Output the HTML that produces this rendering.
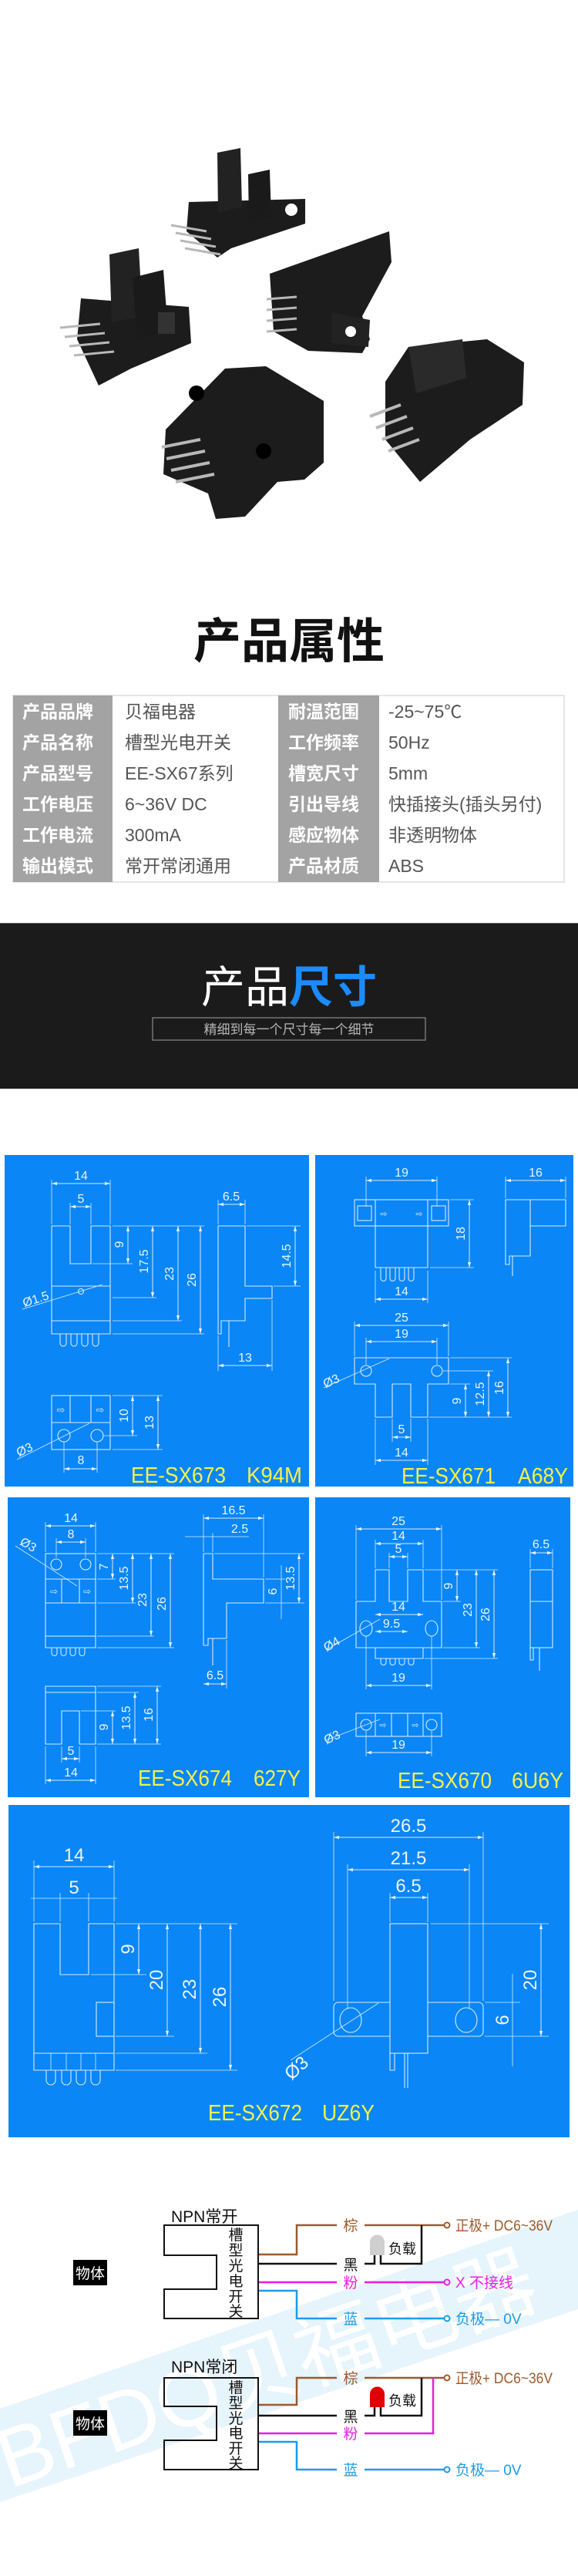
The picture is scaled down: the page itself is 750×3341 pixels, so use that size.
<!DOCTYPE html>
<html><head><meta charset="utf-8">
<style>
html,body{margin:0;padding:0;background:#fff;}
svg{display:block;}
.t{font-family:"Liberation Sans","Noto Sans CJK SC",sans-serif;}
.n{font-family:"Liberation Sans Narrow","Liberation Sans","Noto Sans CJK SC",sans-serif;}
.s{fill:none;stroke:#d6ebff;stroke-width:1.1;}
.d{fill:none;stroke:#d6ebff;stroke-width:1;marker-start:url(#ar);marker-end:url(#ar);}
.e{fill:none;stroke:#d6ebff;stroke-width:0.8;}
.dt{font-family:"Liberation Sans Narrow","Liberation Sans",sans-serif;font-size:16px;fill:#eaf5ff;text-anchor:middle;}
.dt2{font-family:"Liberation Sans Narrow","Liberation Sans",sans-serif;font-size:24px;fill:#eaf5ff;text-anchor:middle;}
.lab{font-family:"Liberation Sans Narrow","Liberation Sans",sans-serif;font-size:29px;fill:#f4f24a;}
.w{fill:none;stroke-width:2.5;}
</style></head><body>
<svg width="750" height="3341" viewBox="0 0 750 3341" xmlns="http://www.w3.org/2000/svg">
<defs>
<marker id="ar" viewBox="0 0 10 10" refX="10" refY="5" markerWidth="7" markerHeight="7" orient="auto-start-reverse" markerUnits="userSpaceOnUse"><path d="M0,2 L10,5 L0,8 Z" fill="#e6f3ff"/></marker>
</defs>

<!-- ============ PHOTO ============ -->
<g>
<polygon points="245,262 396,258 396,290 300,322 282,334 242,300" fill="#1c1c1c"/>
<polygon points="282,198 312,192 314,268 283,276" fill="#222"/>
<polygon points="322,226 350,220 352,282 323,288" fill="#1a1a1a"/>
<circle cx="378" cy="272" r="8" fill="#fff"/>
<g stroke="#b8b8b8" stroke-width="3"><line x1="222" y1="292" x2="268" y2="300"/><line x1="228" y1="302" x2="274" y2="310"/><line x1="234" y1="312" x2="280" y2="320"/><line x1="240" y1="322" x2="286" y2="330"/></g>
<polygon points="105,387 245,398 248,445 170,478 128,500 100,440" fill="#1c1c1c"/>
<polygon points="142,330 180,322 185,410 145,418" fill="#222"/>
<polygon points="172,360 212,350 218,430 178,440" fill="#1a1a1a"/>
<rect x="205" y="405" width="22" height="28" fill="#333"/>
<g stroke="#b8b8b8" stroke-width="3"><line x1="78" y1="425" x2="130" y2="420"/><line x1="84" y1="437" x2="136" y2="432"/><line x1="90" y1="449" x2="142" y2="444"/><line x1="96" y1="461" x2="148" y2="456"/></g>
<polygon points="350,355 505,300 508,340 470,410 480,440 470,458 400,455 355,430" fill="#1c1c1c"/>
<polygon points="430,405 480,415 478,450 430,445" fill="#222"/>
<circle cx="455" cy="430" r="7" fill="#fff"/>
<g stroke="#b8b8b8" stroke-width="3"><line x1="346" y1="388" x2="385" y2="385"/><line x1="346" y1="402" x2="385" y2="399"/><line x1="346" y1="416" x2="385" y2="413"/><line x1="346" y1="430" x2="385" y2="427"/></g>
<polygon points="215,557 292,478 345,475 420,520 420,600 395,622 360,625 318,670 280,673 270,640 212,615" fill="#1c1c1c"/>
<circle cx="255" cy="510" r="10" fill="#000"/>
<circle cx="342" cy="585" r="10" fill="#000"/>
<g stroke="#b8b8b8" stroke-width="4"><line x1="210" y1="580" x2="260" y2="570"/><line x1="216" y1="595" x2="266" y2="585"/><line x1="222" y1="610" x2="272" y2="600"/><line x1="228" y1="625" x2="278" y2="615"/></g>
<polygon points="500,495 530,450 632,440 680,470 678,525 610,570 545,625 500,570" fill="#1c1c1c"/>
<polygon points="530,450 600,440 605,490 540,510" fill="#2a2a2a"/>
<g stroke="#b8b8b8" stroke-width="4"><line x1="480" y1="540" x2="520" y2="525"/><line x1="488" y1="555" x2="528" y2="540"/><line x1="496" y1="570" x2="536" y2="555"/><line x1="504" y1="585" x2="544" y2="570"/></g>
</g>

<!-- ============ 产品属性 ============ -->
<text x="375" y="853" class="t" font-size="62" font-weight="bold" fill="#111" text-anchor="middle">产品属性</text>
<rect x="17" y="902" width="715" height="242" fill="#fff" stroke="#ddd" stroke-width="1.5"/>
<rect x="17" y="902" width="129" height="242" fill="#a3a3a3"/>
<rect x="361" y="902" width="131" height="242" fill="#a3a3a3"/>
<g class="t" font-size="23">
<g fill="#fff" font-weight="bold">
<text x="29" y="931">产品品牌</text><text x="29" y="971">产品名称</text><text x="29" y="1011">产品型号</text><text x="29" y="1051">工作电压</text><text x="29" y="1091">工作电流</text><text x="29" y="1131">输出模式</text>
<text x="374" y="931">耐温范围</text><text x="374" y="971">工作频率</text><text x="374" y="1011">槽宽尺寸</text><text x="374" y="1051">引出导线</text><text x="374" y="1091">感应物体</text><text x="374" y="1131">产品材质</text>
</g>
<g fill="#555">
<text x="162" y="931">贝福电器</text><text x="162" y="971">槽型光电开关</text><text x="162" y="1011">EE-SX67系列</text><text x="162" y="1051">6~36V DC</text><text x="162" y="1091">300mA</text><text x="162" y="1131">常开常闭通用</text>
<text x="504" y="931">-25~75℃</text><text x="504" y="971">50Hz</text><text x="504" y="1011">5mm</text><text x="504" y="1051">快插接头(插头另付)</text><text x="504" y="1091">非透明物体</text><text x="504" y="1131">ABS</text>
</g></g>

<!-- ============ banner ============ -->
<rect x="0" y="1197" width="750" height="215" fill="#1b1b1b"/>
<line x1="0" y1="1197.5" x2="750" y2="1197.5" stroke="#555"/>
<text x="375" y="1300" class="t" font-size="57" text-anchor="middle"><tspan fill="#fff">产品</tspan><tspan fill="#1a8cff" font-weight="bold">尺寸</tspan></text>
<rect x="198" y="1320" width="354" height="29" fill="none" stroke="#8a8a8a" stroke-width="1.2"/>
<text x="375" y="1341" class="t" font-size="17" fill="#b5b5b5" text-anchor="middle">精细到每一个尺寸每一个细节</text>

<!-- ============ panels ============ -->
<rect x="6" y="1498" width="395" height="430" fill="#0a86f6"/>
<rect x="409" y="1498" width="335" height="430" fill="#0a86f6"/>
<rect x="10" y="1942" width="391" height="389" fill="#0a86f6"/>
<rect x="409" y="1942" width="331" height="389" fill="#0a86f6"/>
<rect x="11" y="2341" width="728" height="431" fill="#0a86f6"/>

<!-- panel1 -->
<g>
<path class="s" d="M67,1590 H91 V1639 H118 V1590 H143 V1713 H67 Z"/>
<line class="s" x1="67" y1="1668" x2="143" y2="1668"/>
<path class="s" d="M67,1713 V1730 H143 V1713"/>
<g class="s"><path d="M78,1730 V1742 a4,4 0 0 0 8,0 V1730"/><path d="M92,1730 V1742 a4,4 0 0 0 8,0 V1730"/><path d="M106,1730 V1742 a4,4 0 0 0 8,0 V1730"/><path d="M120,1730 V1742 a4,4 0 0 0 8,0 V1730"/></g>
<circle class="s" cx="105" cy="1675" r="3.5"/>
<line class="e" x1="29" y1="1698" x2="133" y2="1666"/>
<text class="dt" transform="translate(48,1690) rotate(-18)">Ø1.5</text>
<g class="e"><line x1="67" y1="1530" x2="67" y2="1588"/><line x1="143" y1="1530" x2="143" y2="1588"/><line x1="91" y1="1560" x2="91" y2="1588"/><line x1="118" y1="1560" x2="118" y2="1588"/>
<line x1="146" y1="1590" x2="265" y2="1590"/><line x1="120" y1="1639" x2="172" y2="1639"/><line x1="146" y1="1683" x2="203" y2="1683"/><line x1="146" y1="1713" x2="236" y2="1713"/><line x1="146" y1="1730" x2="265" y2="1730"/></g>
<line class="d" x1="67" y1="1535" x2="143" y2="1535"/><text class="dt" x="105" y="1530">14</text>
<line class="d" x1="91" y1="1565" x2="118" y2="1565"/><text class="dt" x="105" y="1560">5</text>
<line class="d" x1="166" y1="1590" x2="166" y2="1639"/><text class="dt" transform="translate(160,1614) rotate(-90)">9</text>
<line class="d" x1="198" y1="1590" x2="198" y2="1683"/><text class="dt" transform="translate(192,1636) rotate(-90)">17.5</text>
<line class="d" x1="231" y1="1590" x2="231" y2="1713"/><text class="dt" transform="translate(225,1652) rotate(-90)">23</text>
<line class="d" x1="260" y1="1590" x2="260" y2="1730"/><text class="dt" transform="translate(254,1660) rotate(-90)">26</text>
<path class="s" d="M283,1590 H318 V1668 H353 V1684 H318 V1713 H287 V1730 H283 Z"/>
<line class="s" x1="297" y1="1713" x2="297" y2="1747"/>
<g class="e"><line x1="283" y1="1556" x2="283" y2="1588"/><line x1="318" y1="1556" x2="318" y2="1588"/><line x1="320" y1="1590" x2="390" y2="1590"/><line x1="355" y1="1668" x2="390" y2="1668"/><line x1="283" y1="1732" x2="283" y2="1778"/><line x1="353" y1="1686" x2="353" y2="1778"/></g>
<line class="d" x1="283" y1="1562" x2="318" y2="1562"/><text class="dt" x="300" y="1557">6.5</text>
<line class="d" x1="383" y1="1590" x2="383" y2="1668"/><text class="dt" transform="translate(377,1629) rotate(-90)">14.5</text>
<line class="d" x1="283" y1="1771" x2="353" y2="1771"/><text class="dt" x="318" y="1766">13</text>
<rect class="s" x="67" y="1810" width="76" height="70"/>
<line class="s" x1="67" y1="1845" x2="143" y2="1845"/>
<line class="s" x1="91" y1="1810" x2="91" y2="1845"/><line class="s" x1="118" y1="1810" x2="118" y2="1845"/>
<text x="79" y="1833" font-size="13" fill="#d6ebff" text-anchor="middle">⇨</text><text x="130" y="1833" font-size="13" fill="#d6ebff" text-anchor="middle">⇨</text>
<circle class="s" cx="83" cy="1862" r="8"/><circle class="s" cx="126" cy="1862" r="8"/>
<g class="e"><line x1="146" y1="1810" x2="211" y2="1810"/><line x1="134" y1="1862" x2="178" y2="1862"/><line x1="146" y1="1880" x2="211" y2="1880"/><line x1="83" y1="1870" x2="83" y2="1910"/><line x1="126" y1="1870" x2="126" y2="1910"/></g>
<line class="d" x1="172" y1="1810" x2="172" y2="1862"/><text class="dt" transform="translate(166,1836) rotate(-90)">10</text>
<line class="d" x1="205" y1="1810" x2="205" y2="1880"/><text class="dt" transform="translate(199,1845) rotate(-90)">13</text>
<line class="d" x1="83" y1="1905" x2="126" y2="1905"/><text class="dt" x="105" y="1899">8</text>
<line class="e" x1="22" y1="1893" x2="116" y2="1846"/>
<text class="dt" transform="translate(34,1885) rotate(-25)">Ø3</text>
<text class="lab" x="170" y="1923" textLength="123" lengthAdjust="spacingAndGlyphs">EE-SX673</text><text class="lab" x="320" y="1923" textLength="72" lengthAdjust="spacingAndGlyphs">K94M</text>
</g>

<!-- panel2 -->
<g>
<rect class="s" x="460" y="1556" width="122" height="34"/>
<line class="s" x1="487" y1="1556" x2="487" y2="1590"/><line class="s" x1="555" y1="1556" x2="555" y2="1590"/>
<path class="s" d="M487,1590 V1644 H555 V1590"/>
<rect class="s" x="464" y="1564" width="18" height="19"/><rect class="s" x="560" y="1564" width="18" height="19"/>
<text x="498" y="1578" font-size="11" fill="#d6ebff" text-anchor="middle">⇨</text><text x="544" y="1578" font-size="11" fill="#d6ebff" text-anchor="middle">⇨</text>
<g class="s"><path d="M494,1644 V1658 a3.5,3.5 0 0 0 7,0 V1644"/><path d="M506,1644 V1658 a3.5,3.5 0 0 0 7,0 V1644"/><path d="M518,1644 V1658 a3.5,3.5 0 0 0 7,0 V1644"/><path d="M530,1644 V1658 a3.5,3.5 0 0 0 7,0 V1644"/></g>
<g class="e"><line x1="475" y1="1526" x2="475" y2="1565"/><line x1="567" y1="1526" x2="567" y2="1565"/><line x1="584" y1="1556" x2="615" y2="1556"/><line x1="558" y1="1644" x2="615" y2="1644"/><line x1="487" y1="1648" x2="487" y2="1690"/><line x1="555" y1="1648" x2="555" y2="1690"/><line x1="656" y1="1526" x2="656" y2="1554"/><line x1="734" y1="1526" x2="734" y2="1554"/></g>
<line class="d" x1="475" y1="1531" x2="567" y2="1531"/><text class="dt" x="521" y="1526">19</text>
<line class="d" x1="609" y1="1556" x2="609" y2="1644"/><text class="dt" transform="translate(603,1600) rotate(-90)">18</text>
<line class="d" x1="487" y1="1685" x2="555" y2="1685"/><text class="dt" x="521" y="1680">14</text>
<path class="s" d="M656,1556 H734 V1590 H688 V1629 H661 V1640 H656 Z"/><line class="s" x1="688" y1="1556" x2="688" y2="1590"/>
<line class="s" x1="665" y1="1629" x2="665" y2="1655"/>
<line class="d" x1="656" y1="1531" x2="734" y2="1531"/><text class="dt" x="695" y="1526">16</text>
<path class="s" d="M460,1761 H582 V1795 H555 V1838 H533 V1795 H509 V1838 H487 V1795 H460 Z"/>
<circle class="s" cx="475" cy="1778" r="7"/><circle class="s" cx="567" cy="1778" r="7"/>
<g class="e"><line x1="460" y1="1714" x2="460" y2="1759"/><line x1="582" y1="1714" x2="582" y2="1759"/><line x1="475" y1="1735" x2="475" y2="1770"/><line x1="567" y1="1735" x2="567" y2="1770"/><line x1="584" y1="1761" x2="664" y2="1761"/><line x1="575" y1="1778" x2="640" y2="1778"/><line x1="584" y1="1795" x2="610" y2="1795"/><line x1="557" y1="1838" x2="664" y2="1838"/><line x1="509" y1="1840" x2="509" y2="1870"/><line x1="533" y1="1840" x2="533" y2="1870"/><line x1="487" y1="1840" x2="487" y2="1900"/><line x1="555" y1="1840" x2="555" y2="1900"/></g>
<line class="d" x1="460" y1="1719" x2="582" y2="1719"/><text class="dt" x="521" y="1714">25</text>
<line class="d" x1="475" y1="1740" x2="567" y2="1740"/><text class="dt" x="521" y="1735">19</text>
<line class="d" x1="604" y1="1795" x2="604" y2="1838"/><text class="dt" transform="translate(598,1817) rotate(-90)">9</text>
<line class="d" x1="634" y1="1778" x2="634" y2="1838"/><text class="dt" transform="translate(628,1808) rotate(-90)">12.5</text>
<line class="d" x1="659" y1="1761" x2="659" y2="1838"/><text class="dt" transform="translate(653,1800) rotate(-90)">16</text>
<line class="d" x1="509" y1="1864" x2="533" y2="1864"/><text class="dt" x="521" y="1859">5</text>
<line class="d" x1="487" y1="1894" x2="555" y2="1894"/><text class="dt" x="521" y="1889">14</text>
<line class="e" x1="420" y1="1800" x2="505" y2="1762"/>
<text class="dt" transform="translate(432,1796) rotate(-25)">Ø3</text>
<text class="lab" x="521" y="1924" textLength="122" lengthAdjust="spacingAndGlyphs">EE-SX671</text><text class="lab" x="672" y="1924" textLength="65" lengthAdjust="spacingAndGlyphs">A68Y</text>
</g>

<!-- panel3 -->
<g>
<rect class="s" x="59" y="2015" width="65" height="107"/>
<line class="s" x1="59" y1="2048" x2="124" y2="2048"/>
<path class="s" d="M80,2048 V2079 H103 V2048"/><line class="s" x1="59" y1="2079" x2="80" y2="2079"/><line class="s" x1="103" y1="2079" x2="124" y2="2079"/>
<circle class="s" cx="73" cy="2029" r="7"/><circle class="s" cx="111" cy="2029" r="7"/>
<text x="70" y="2068" font-size="12" fill="#d6ebff" text-anchor="middle">⇨</text><text x="113" y="2068" font-size="12" fill="#d6ebff" text-anchor="middle">⇨</text>
<path class="s" d="M59,2122 V2137 H124 V2122"/>
<g class="s"><path d="M67,2137 V2144 a3.5,3.5 0 0 0 7,0 V2137"/><path d="M79,2137 V2144 a3.5,3.5 0 0 0 7,0 V2137"/><path d="M91,2137 V2144 a3.5,3.5 0 0 0 7,0 V2137"/><path d="M103,2137 V2144 a3.5,3.5 0 0 0 7,0 V2137"/></g>
<g class="e"><line x1="59" y1="1974" x2="59" y2="2013"/><line x1="124" y1="1974" x2="124" y2="2013"/><line x1="73" y1="1995" x2="73" y2="2020"/><line x1="111" y1="1995" x2="111" y2="2020"/><line x1="126" y1="2015" x2="226" y2="2015"/><line x1="126" y1="2048" x2="150" y2="2048"/><line x1="126" y1="2079" x2="176" y2="2079"/><line x1="126" y1="2122" x2="200" y2="2122"/><line x1="126" y1="2137" x2="226" y2="2137"/></g>
<line class="d" x1="59" y1="1979" x2="124" y2="1979"/><text class="dt" x="92" y="1974">14</text>
<line class="d" x1="73" y1="2000" x2="111" y2="2000"/><text class="dt" x="92" y="1995">8</text>
<line class="d" x1="146" y1="2015" x2="146" y2="2048"/><text class="dt" transform="translate(140,2032) rotate(-90)">7</text>
<line class="d" x1="172" y1="2015" x2="172" y2="2079"/><text class="dt" transform="translate(166,2047) rotate(-90)">13.5</text>
<line class="d" x1="196" y1="2015" x2="196" y2="2122"/><text class="dt" transform="translate(190,2075) rotate(-90)">23</text>
<line class="d" x1="221" y1="2015" x2="221" y2="2137"/><text class="dt" transform="translate(215,2080) rotate(-90)">26</text>
<line class="e" x1="20" y1="2005" x2="100" y2="2057"/>
<text class="dt" transform="translate(34,2008) rotate(30)">Ø3</text>
<path class="s" d="M264,2015 H276 V2048 H342 V2079 H294 V2125 H270 V2134 H264 Z"/>
<line class="s" x1="276" y1="2125" x2="276" y2="2160"/>
<g class="e"><line x1="264" y1="1964" x2="264" y2="2013"/><line x1="342" y1="1964" x2="342" y2="2046"/><line x1="276" y1="1988" x2="276" y2="2013"/><line x1="278" y1="2015" x2="395" y2="2015"/><line x1="344" y1="2048" x2="370" y2="2048"/><line x1="344" y1="2079" x2="395" y2="2079"/><line x1="365" y1="2030" x2="365" y2="2100"/><line x1="294" y1="2127" x2="294" y2="2190"/></g>
<line class="d" x1="264" y1="1969" x2="342" y2="1969"/><text class="dt" x="303" y="1964">16.5</text>
<line class="e" x1="240" y1="1993" x2="323" y2="1993"/><text class="dt" x="311" y="1988">2.5</text>
<line class="d" x1="388" y1="2015" x2="388" y2="2079"/><text class="dt" transform="translate(382,2047) rotate(-90)">13.5</text>
<text class="dt" transform="translate(359,2064) rotate(-90)">6</text>
<line class="d" x1="264" y1="2184" x2="294" y2="2184"/><text class="dt" x="279" y="2178">6.5</text>
<path class="s" d="M59,2187 H124 V2262 H103 V2219 H80 V2262 H59 Z"/>
<line class="s" x1="59" y1="2195" x2="124" y2="2195"/>
<g class="e"><line x1="105" y1="2219" x2="150" y2="2219"/><line x1="126" y1="2195" x2="180" y2="2195"/><line x1="126" y1="2187" x2="209" y2="2187"/><line x1="126" y1="2262" x2="209" y2="2262"/><line x1="80" y1="2265" x2="80" y2="2286"/><line x1="103" y1="2265" x2="103" y2="2286"/><line x1="59" y1="2265" x2="59" y2="2314"/><line x1="124" y1="2265" x2="124" y2="2314"/></g>
<line class="d" x1="146" y1="2219" x2="146" y2="2262"/><text class="dt" transform="translate(140,2240) rotate(-90)">9</text>
<line class="d" x1="175" y1="2195" x2="175" y2="2262"/><text class="dt" transform="translate(169,2228) rotate(-90)">13.5</text>
<line class="d" x1="204" y1="2187" x2="204" y2="2262"/><text class="dt" transform="translate(198,2224) rotate(-90)">16</text>
<line class="d" x1="80" y1="2281" x2="103" y2="2281"/><text class="dt" x="92" y="2276">5</text>
<line class="d" x1="59" y1="2309" x2="124" y2="2309"/><text class="dt" x="92" y="2304">14</text>
<text class="lab" x="179" y="2316" textLength="122" lengthAdjust="spacingAndGlyphs">EE-SX674</text><text class="lab" x="329" y="2316" textLength="61" lengthAdjust="spacingAndGlyphs">627Y</text>
</g>

<!-- panel4 -->
<g>
<path class="s" d="M462,2077 H487 V2036 H505 V2077 H529 V2036 H549 V2077 H573 V2137 H462 Z"/>
<path class="s" d="M487,2137 V2151 H549 V2137"/>
<g class="s"><path d="M494,2151 V2156 a3.5,3.5 0 0 0 7,0 V2151"/><path d="M506,2151 V2156 a3.5,3.5 0 0 0 7,0 V2151"/><path d="M518,2151 V2156 a3.5,3.5 0 0 0 7,0 V2151"/><path d="M530,2151 V2156 a3.5,3.5 0 0 0 7,0 V2151"/></g>
<ellipse class="s" cx="475" cy="2112" rx="8" ry="10"/><ellipse class="s" cx="560" cy="2112" rx="8" ry="10"/>
<g class="e"><line x1="462" y1="1978" x2="462" y2="2075"/><line x1="573" y1="1978" x2="573" y2="2075"/><line x1="487" y1="1997" x2="487" y2="2034"/><line x1="549" y1="1997" x2="549" y2="2034"/><line x1="505" y1="2014" x2="505" y2="2034"/><line x1="529" y1="2014" x2="529" y2="2034"/><line x1="551" y1="2036" x2="646" y2="2036"/><line x1="575" y1="2077" x2="598" y2="2077"/><line x1="575" y1="2137" x2="623" y2="2137"/><line x1="551" y1="2151" x2="646" y2="2151"/><line x1="475" y1="2122" x2="475" y2="2191"/><line x1="560" y1="2122" x2="560" y2="2191"/></g>
<line class="d" x1="462" y1="1983" x2="573" y2="1983"/><text class="dt" x="517" y="1978">25</text>
<line class="d" x1="487" y1="2002" x2="549" y2="2002"/><text class="dt" x="517" y="1997">14</text>
<line class="d" x1="505" y1="2019" x2="529" y2="2019"/><text class="dt" x="517" y="2014">5</text>
<line class="d" x1="593" y1="2036" x2="593" y2="2077"/><text class="dt" transform="translate(587,2057) rotate(-90)">9</text>
<line class="d" x1="618" y1="2036" x2="618" y2="2137"/><text class="dt" transform="translate(612,2088) rotate(-90)">23</text>
<line class="d" x1="641" y1="2036" x2="641" y2="2151"/><text class="dt" transform="translate(635,2094) rotate(-90)">26</text>
<line class="d" x1="487" y1="2094" x2="549" y2="2094"/><text class="dt" x="517" y="2089">14</text>
<line class="d" x1="487" y1="2116" x2="529" y2="2116"/><text class="dt" x="508" y="2111">9.5</text>
<line class="d" x1="475" y1="2186" x2="560" y2="2186"/><text class="dt" x="517" y="2181">19</text>
<line class="e" x1="423" y1="2140" x2="493" y2="2100"/>
<text class="dt" transform="translate(433,2137) rotate(-30)">Ø4</text>
<rect class="s" x="688" y="2036" width="29" height="101"/><line class="s" x1="688" y1="2077" x2="717" y2="2077"/>
<path class="s" d="M688,2137 V2153 H692 V2137"/><line class="s" x1="700" y1="2137" x2="700" y2="2167"/>
<line class="e" x1="688" y1="2009" x2="688" y2="2034"/><line class="e" x1="717" y1="2009" x2="717" y2="2034"/>
<line class="d" x1="688" y1="2014" x2="717" y2="2014"/><text class="dt" x="702" y="2008">6.5</text>
<rect class="s" x="462" y="2222" width="111" height="30"/>
<line class="s" x1="487" y1="2222" x2="487" y2="2252"/><line class="s" x1="508" y1="2222" x2="508" y2="2252"/><line class="s" x1="529" y1="2222" x2="529" y2="2252"/><line class="s" x1="549" y1="2222" x2="549" y2="2252"/>
<circle class="s" cx="475" cy="2237" r="7"/><circle class="s" cx="560" cy="2237" r="7"/>
<text x="497" y="2241" font-size="11" fill="#d6ebff" text-anchor="middle">⇨</text><text x="539" y="2241" font-size="11" fill="#d6ebff" text-anchor="middle">⇨</text>
<g class="e"><line x1="475" y1="2245" x2="475" y2="2278"/><line x1="560" y1="2245" x2="560" y2="2278"/></g>
<line class="d" x1="475" y1="2273" x2="560" y2="2273"/><text class="dt" x="517" y="2268">19</text>
<line class="e" x1="423" y1="2257" x2="493" y2="2230"/>
<text class="dt" transform="translate(433,2258) rotate(-25)">Ø3</text>
<text class="lab" x="516" y="2319" textLength="122" lengthAdjust="spacingAndGlyphs">EE-SX670</text><text class="lab" x="664" y="2319" textLength="67" lengthAdjust="spacingAndGlyphs">6U6Y</text>
</g>

<!-- panel5 -->
<g>
<path class="s" d="M44,2495 H78 V2561 H115 V2495 H148 V2663 H44 Z"/>
<rect class="s" x="125" y="2597" width="23" height="44"/>
<path class="s" d="M44,2663 V2685 H148 V2663"/>
<g class="s"><path d="M60,2685 V2698 a6,6 0 0 0 12,0 V2685"/><path d="M80,2685 V2698 a6,6 0 0 0 12,0 V2685"/><path d="M99,2685 V2698 a6,6 0 0 0 12,0 V2685"/><path d="M118,2685 V2698 a6,6 0 0 0 12,0 V2685"/></g>
<g class="e" stroke-width="0.7"><line x1="66" y1="2663" x2="66" y2="2685"/><line x1="86" y1="2663" x2="86" y2="2685"/><line x1="105" y1="2663" x2="105" y2="2685"/><line x1="124" y1="2663" x2="124" y2="2685"/></g>
<g class="e"><line x1="44" y1="2413" x2="44" y2="2492"/><line x1="148" y1="2413" x2="148" y2="2492"/><line x1="78" y1="2455" x2="78" y2="2492"/><line x1="115" y1="2455" x2="115" y2="2492"/><line x1="150" y1="2495" x2="308" y2="2495"/><line x1="118" y1="2561" x2="190" y2="2561"/><line x1="150" y1="2641" x2="226" y2="2641"/><line x1="150" y1="2663" x2="269" y2="2663"/><line x1="150" y1="2685" x2="308" y2="2685"/></g>
<line class="d" x1="44" y1="2421" x2="148" y2="2421"/><text class="dt2" x="96" y="2414">14</text>
<line class="e" x1="40" y1="2462" x2="152" y2="2462"/><text class="dt2" x="96" y="2456">5</text>
<line class="d" x1="180" y1="2495" x2="180" y2="2561"/><text class="dt2" transform="translate(174,2528) rotate(-90)">9</text>
<line class="d" x1="217" y1="2495" x2="217" y2="2641"/><text class="dt2" transform="translate(211,2568) rotate(-90)">20</text>
<line class="d" x1="260" y1="2495" x2="260" y2="2663"/><text class="dt2" transform="translate(254,2580) rotate(-90)">23</text>
<line class="d" x1="299" y1="2495" x2="299" y2="2685"/><text class="dt2" transform="translate(293,2590) rotate(-90)">26</text>
<rect class="s" x="433" y="2597" width="194" height="44" rx="6"/>
<rect x="506" y="2495" width="49" height="168" fill="#0a86f6" stroke="#d6ebff" stroke-width="1.1"/>
<ellipse class="s" cx="455" cy="2620" rx="14" ry="16"/><ellipse class="s" cx="605" cy="2620" rx="14" ry="16"/>
<path class="s" d="M506,2663 V2685 H512 V2663"/><line class="s" x1="525" y1="2663" x2="525" y2="2708"/><line class="s" x1="529" y1="2663" x2="529" y2="2708"/>
<g class="e"><line x1="433" y1="2376" x2="433" y2="2595"/><line x1="627" y1="2376" x2="627" y2="2595"/><line x1="451" y1="2418" x2="451" y2="2606"/><line x1="609" y1="2418" x2="609" y2="2606"/><line x1="506" y1="2455" x2="506" y2="2493"/><line x1="555" y1="2455" x2="555" y2="2493"/><line x1="559" y1="2495" x2="712" y2="2495"/><line x1="629" y1="2597" x2="675" y2="2597"/><line x1="629" y1="2641" x2="712" y2="2641"/><line x1="665" y1="2560" x2="665" y2="2680"/></g>
<line class="d" x1="433" y1="2383" x2="627" y2="2383"/><text class="dt2" x="530" y="2376">26.5</text>
<line class="d" x1="451" y1="2425" x2="609" y2="2425"/><text class="dt2" x="530" y="2418">21.5</text>
<line class="d" x1="506" y1="2461" x2="555" y2="2461"/><text class="dt2" x="530" y="2454">6.5</text>
<line class="d" x1="702" y1="2495" x2="702" y2="2641"/><text class="dt2" transform="translate(696,2568) rotate(-90)">20</text>
<text class="dt2" transform="translate(660,2620) rotate(-90)">6</text>
<line class="e" x1="377" y1="2672" x2="491" y2="2598"/>
<text class="dt2" transform="translate(390,2688) rotate(-42)">Ø3</text>
<text class="lab" x="270" y="2750" textLength="122" lengthAdjust="spacingAndGlyphs">EE-SX672</text><text class="lab" x="418" y="2750" textLength="68" lengthAdjust="spacingAndGlyphs">UZ6Y</text>
</g>

<!-- ============ wiring ============ -->
<polygon points="0,3124 750,2866 750,2995 0,3245" fill="#e6f4fc"/>
<text x="12" y="3228" transform="rotate(-19 12 3228)" class="t" font-size="108" fill="#fff">BFDQ贝福电器</text>

<g class="t">
<rect x="95" y="2931" width="44" height="33" fill="#000"/><text x="117" y="2955" font-size="19" fill="#fff" text-anchor="middle">物体</text>
<rect x="95" y="3126" width="44" height="33" fill="#000"/><text x="117" y="3150" font-size="19" fill="#fff" text-anchor="middle">物体</text>

<text x="222" y="2882" font-size="21" fill="#111">NPN常开</text>
<path d="M213,2925 V2886 H335 V3007 H213 V2969 H281 V2925 Z" fill="none" stroke="#111" stroke-width="2"/>
<text font-size="19" fill="#111" text-anchor="middle"><tspan x="306" y="2905">槽</tspan><tspan x="306" y="2925">型</tspan><tspan x="306" y="2945">光</tspan><tspan x="306" y="2965">电</tspan><tspan x="306" y="2985">开</tspan><tspan x="306" y="3004">关</tspan></text>
<path class="w" stroke="#9c5a2c" d="M336,2924 H385 V2886 H437"/>
<path class="w" stroke="#9c5a2c" d="M473,2886 H577"/>
<circle cx="580" cy="2886" r="3.5" fill="#fff" stroke="#9c5a2c" stroke-width="2"/>
<path class="w" stroke="#111" d="M336,2936 H437"/>
<path class="w" stroke="#111" d="M473,2936 H486 V2923 M494,2923 V2936 H547 V2886"/>
<path d="M480,2925 V2908 a9.5,9.5 0 0 1 19,0 V2925 Z" fill="#cfcfcf"/>
<text x="504" y="2923" font-size="18" fill="#111">负载</text>
<path class="w" stroke="#e61ee0" d="M336,2960 H437 M473,2960 H577"/>
<circle cx="580" cy="2960" r="3.5" fill="#fff" stroke="#e61ee0" stroke-width="2"/>
<path class="w" stroke="#1e9be8" d="M336,2971 H385 V3007 H437 M473,3007 H577"/>
<circle cx="580" cy="3007" r="3.5" fill="#fff" stroke="#1e9be8" stroke-width="2"/>
<text x="455" y="2893" font-size="19" fill="#9c5a2c" text-anchor="middle">棕</text>
<text x="455" y="2944" font-size="19" fill="#111" text-anchor="middle">黑</text>
<text x="455" y="2967" font-size="19" fill="#e61ee0" text-anchor="middle">粉</text>
<text x="455" y="3014" font-size="19" fill="#1e9be8" text-anchor="middle">蓝</text>
<text x="591" y="2893" font-size="19" fill="#9c5a2c" textLength="126" lengthAdjust="spacingAndGlyphs">正极+ DC6~36V</text>
<text x="591" y="2967" font-size="19" fill="#e61ee0">X 不接线</text>
<text x="591" y="3014" font-size="19" fill="#1e9be8">负极— 0V</text>

<text x="222" y="3077" font-size="21" fill="#111">NPN常闭</text>
<path d="M213,3121 V3084 H335 V3203 H213 V3165 H281 V3121 Z" fill="none" stroke="#111" stroke-width="2"/>
<text font-size="19" fill="#111" text-anchor="middle"><tspan x="306" y="3103">槽</tspan><tspan x="306" y="3123">型</tspan><tspan x="306" y="3143">光</tspan><tspan x="306" y="3162">电</tspan><tspan x="306" y="3182">开</tspan><tspan x="306" y="3201">关</tspan></text>
<path class="w" stroke="#9c5a2c" d="M336,3119 H385 V3084 H437 M473,3084 H577"/>
<circle cx="580" cy="3084" r="3.5" fill="#fff" stroke="#9c5a2c" stroke-width="2"/>
<path class="w" stroke="#111" d="M336,3133 H437 M473,3133 H486 V3120 M494,3120 V3133 H547 V3084"/>
<path d="M480,3122 V3105 a9.5,9.5 0 0 1 19,0 V3122 Z" fill="#e00000"/>
<text x="504" y="3120" font-size="18" fill="#111">负载</text>
<path class="w" stroke="#e61ee0" d="M336,3156 H437 M473,3156 H562 V3084"/>
<path class="w" stroke="#1e9be8" d="M336,3167 H385 V3203 H437 M473,3203 H577"/>
<circle cx="580" cy="3203" r="3.5" fill="#fff" stroke="#1e9be8" stroke-width="2"/>
<text x="455" y="3091" font-size="19" fill="#9c5a2c" text-anchor="middle">棕</text>
<text x="455" y="3141" font-size="19" fill="#111" text-anchor="middle">黑</text>
<text x="455" y="3163" font-size="19" fill="#e61ee0" text-anchor="middle">粉</text>
<text x="455" y="3210" font-size="19" fill="#1e9be8" text-anchor="middle">蓝</text>
<text x="591" y="3091" font-size="19" fill="#9c5a2c" textLength="126" lengthAdjust="spacingAndGlyphs">正极+ DC6~36V</text>
<text x="591" y="3210" font-size="19" fill="#1e9be8">负极— 0V</text>
</g>
</svg>
</body></html>
